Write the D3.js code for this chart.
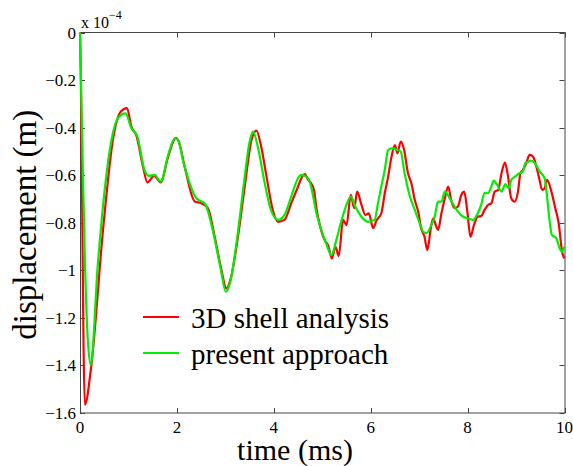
<!DOCTYPE html>
<html>
<head>
<meta charset="utf-8">
<script src="https://cdn.jsdelivr.net/npm/d3@7"></script>
<style>
	body { margin: 0; background: #fff; }
	svg { display: block; }
	text { font-family: "Liberation Serif", "Times New Roman", serif; fill: #000; }
</style>
</head>
<body>
<svg id="chart" width="573" height="466"></svg>
<script>
// values are in units of 1e-4 m, time in ms
var shellTime = [0, 0.01, 0.1, 0.23, 0.475, 0.68, 0.84, 0.97, 1.06, 1.16, 1.30, 1.39, 1.53, 1.665, 1.82, 1.98, 2.04, 2.16, 2.37, 2.50, 2.64, 2.78, 2.92, 3.02, 3.12, 3.26, 3.40, 3.54, 3.64, 3.74, 3.85, 3.97, 4.09, 4.22, 4.36, 4.50, 4.57, 4.64, 4.71, 4.77, 4.83, 4.88, 4.95, 5.05, 5.12, 5.20, 5.27, 5.34, 5.43, 5.50, 5.59, 5.66, 5.72, 5.81, 5.89, 5.96, 6.05, 6.12, 6.22, 6.29, 6.36, 6.43, 6.50, 6.55, 6.62, 6.69, 6.77, 6.84, 6.91, 6.98, 7.04, 7.11, 7.17, 7.24, 7.29, 7.33, 7.39, 7.46, 7.53, 7.60, 7.66, 7.73, 7.80, 7.87, 7.93, 7.99, 8.06, 8.13, 8.21, 8.28, 8.35, 8.42, 8.49, 8.56, 8.63, 8.70, 8.77, 8.83, 8.90, 8.97, 9.04, 9.09, 9.14, 9.21, 9.28, 9.35, 9.42, 9.47, 9.54, 9.59, 9.64, 9.73, 9.81, 9.88, 9.95, 10];
var shellDisp = [0, -0.1, -1.565, -1.407, -0.83, -0.45, -0.333, -0.318, -0.396, -0.431, -0.564, -0.63, -0.603, -0.63, -0.522, -0.443, -0.46, -0.564, -0.711, -0.718, -0.739, -0.859, -0.999, -1.076, -1.027, -0.859, -0.648, -0.452, -0.413, -0.48, -0.606, -0.739, -0.796, -0.788, -0.718, -0.648, -0.613, -0.595, -0.62, -0.634, -0.662, -0.739, -0.81, -0.873, -0.894, -0.95, -0.9, -0.94, -0.788, -0.81, -0.683, -0.739, -0.669, -0.725, -0.767, -0.76, -0.823, -0.79, -0.76, -0.676, -0.606, -0.522, -0.473, -0.508, -0.459, -0.494, -0.592, -0.634, -0.704, -0.753, -0.823, -0.859, -0.915, -0.823, -0.781, -0.802, -0.83, -0.76, -0.697, -0.648, -0.704, -0.739, -0.732, -0.683, -0.669, -0.746, -0.859, -0.81, -0.774, -0.772, -0.746, -0.725, -0.718, -0.669, -0.662, -0.592, -0.547, -0.599, -0.697, -0.711, -0.669, -0.592, -0.578, -0.55, -0.515, -0.522, -0.564, -0.606, -0.662, -0.655, -0.62, -0.669, -0.739, -0.802, -0.922, -0.95];

var presentTime = [0, 0.05, 0.1, 0.15, 0.22, 0.37, 0.65, 0.78, 0.94, 1.06, 1.18, 1.33, 1.42, 1.54, 1.665, 1.82, 1.955, 2.02, 2.14, 2.40, 2.58, 2.76, 2.90, 3.01, 3.10, 3.24, 3.38, 3.50, 3.57, 3.68, 3.80, 3.93, 4.09, 4.22, 4.36, 4.50, 4.57, 4.71, 4.77, 4.88, 4.98, 5.08, 5.19, 5.29, 5.39, 5.50, 5.59, 5.68, 5.81, 5.94, 6.08, 6.15, 6.22, 6.29, 6.36, 6.43, 6.56, 6.62, 6.70, 6.80, 6.91, 7.01, 7.08, 7.15, 7.25, 7.32, 7.39, 7.46, 7.53, 7.63, 7.73, 7.80, 7.91, 8.01, 8.11, 8.21, 8.28, 8.35, 8.42, 8.49, 8.54, 8.61, 8.70, 8.78, 8.85, 8.90, 8.98, 9.07, 9.14, 9.19, 9.25, 9.30, 9.39, 9.49, 9.59, 9.64, 9.69, 9.74, 9.83, 9.90, 9.95, 10];
var presentDisp = [0, -0.5, -0.95, -1.25, -1.398, -0.97, -0.452, -0.361, -0.34, -0.403, -0.435, -0.578, -0.603, -0.599, -0.627, -0.515, -0.445, -0.45, -0.55, -0.697, -0.72, -0.85, -0.99, -1.09, -1.05, -0.87, -0.64, -0.46, -0.417, -0.49, -0.62, -0.74, -0.788, -0.767, -0.69, -0.613, -0.599, -0.613, -0.648, -0.76, -0.83, -0.886, -0.936, -0.873, -0.796, -0.725, -0.69, -0.732, -0.775, -0.796, -0.788, -0.718, -0.646, -0.578, -0.494, -0.487, -0.494, -0.501, -0.592, -0.683, -0.746, -0.802, -0.837, -0.844, -0.81, -0.775, -0.711, -0.711, -0.669, -0.697, -0.732, -0.753, -0.775, -0.781, -0.788, -0.76, -0.725, -0.674, -0.676, -0.648, -0.623, -0.641, -0.669, -0.637, -0.655, -0.62, -0.606, -0.592, -0.585, -0.55, -0.543, -0.539, -0.55, -0.585, -0.613, -0.69, -0.788, -0.851, -0.865, -0.907, -0.922, -0.9];

var xTicks = [0, 2, 4, 6, 8, 10];
var yTicks = [0, -0.2, -0.4, -0.6, -0.8, -1, -1.2, -1.4, -1.6];
var seriesNames = ["3D shell analysis", "present approach"];
var seriesColors = ["#ff0000", "#00ee00"];

// note: "top" is taken by window.top, so use plot* names
var svg = d3.select("#chart"),
	plotLeft = 80, plotTop = 32.5, plotRight = 564.5, plotBottom = 413;

var xscale = d3.scaleLinear().domain([0, 10]).range([plotLeft, plotRight]);
var yscale = d3.scaleLinear().domain([-1.6, 0]).range([plotBottom, plotTop]);

function fmt(d) {
	return d3.format("~g")(d).replace("-", "\u2212");
}

function drawAxes() {
	var g = svg.append("g").attr("class", "axes");

	// ticks pointing inward on all four sides
	var tickLen = 5;
	xTicks.forEach(function (d) {
		var x = Math.round(xscale(d)) + 0.5;
		g.append("line").attr("x1", x).attr("x2", x).attr("y1", plotBottom).attr("y2", plotBottom - tickLen);
		g.append("line").attr("x1", x).attr("x2", x).attr("y1", plotTop).attr("y2", plotTop + tickLen);
		g.append("text")
			.attr("x", xscale(d))
			.attr("y", plotBottom + 20)
			.attr("text-anchor", "middle")
			.style("font-size", "17px")
			.text(fmt(d));
	});
	yTicks.forEach(function (d) {
		var y = Math.round(yscale(d)) + 0.5;
		g.append("line").attr("x1", plotLeft).attr("x2", plotLeft + tickLen).attr("y1", y).attr("y2", y);
		g.append("line").attr("x1", plotRight).attr("x2", plotRight - tickLen).attr("y1", y).attr("y2", y);
		g.append("text")
			.attr("x", plotLeft - 4)
			.attr("y", yscale(d) + 6)
			.attr("text-anchor", "end")
			.style("font-size", "17px")
			.text(fmt(d));
	});

	g.append("rect")
		.attr("x", plotLeft + 0.5).attr("y", plotTop)
		.attr("width", plotRight - plotLeft).attr("height", plotBottom - plotTop)
		.attr("fill", "none");

	g.selectAll("line, rect")
		.attr("stroke", "#444")
		.attr("stroke-width", 1);

	// exponent label
	var ex = svg.append("text").attr("x", plotLeft + 1).attr("y", 28).style("font-size", "16px");
	ex.append("tspan").text("x 10");
	ex.append("tspan").attr("dy", -9).style("font-size", "12px").text("\u22124");

	svg.append("text")
		.attr("x", 295)
		.attr("y", 460)
		.attr("text-anchor", "middle")
		.style("font-size", "30px")
		.text("time (ms)");

	svg.append("text")
		.attr("transform", "translate(36," + ((plotTop + plotBottom) / 2 + 2) + ") rotate(-90)")
		.attr("text-anchor", "middle")
		.style("font-size", "33px")
		.text("displacement (m)");
}

function drawSeries(times, values, color) {
	var pts = times.map(function (t, i) { return {t: t, v: values[i]}; });
	var line = d3.line()
		.x(function (d) { return xscale(d.t); })
		.y(function (d) { return yscale(d.v); })
		.curve(d3.curveMonotoneX);
	svg.append("path")
		.datum(pts)
		.attr("d", line)
		.attr("fill", "none")
		.attr("stroke", color)
		.attr("stroke-width", 2.2)
		.attr("stroke-linejoin", "round");
}

function drawLegend() {
	var lg = svg.append("g").attr("class", "legend");
	seriesNames.forEach(function (name, i) {
		var y = 317 + i * 36;
		lg.append("line")
			.attr("x1", 143).attr("x2", 179)
			.attr("y1", y).attr("y2", y)
			.attr("stroke", seriesColors[i])
			.attr("stroke-width", 2.2);
		lg.append("text")
			.attr("x", 191)
			.attr("y", y + 11)
			.style("font-size", "29px")
			.text(name);
	});
}

drawAxes();
drawSeries(shellTime, shellDisp, seriesColors[0]);
drawSeries(presentTime, presentDisp, seriesColors[1]);
drawLegend();
</script>
</body>
</html>
